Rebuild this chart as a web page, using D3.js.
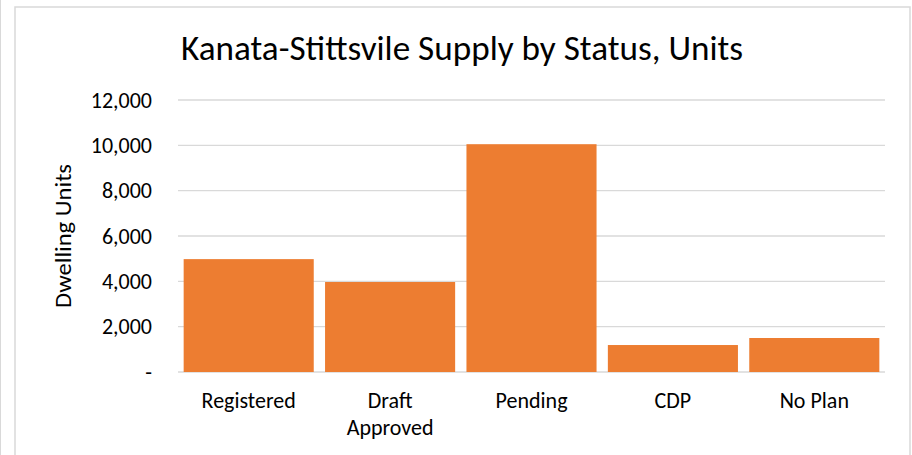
<!DOCTYPE html>
<html>
<head>
<meta charset="utf-8">
<script src="https://cdn.jsdelivr.net/npm/d3@7"></script>
<style>
  body { margin: 0; background: #fff; }
  svg { display: block; }
  text { font-family: Calibri, Carlito, Lato, "Open Sans", sans-serif; fill: #000; }
</style>
</head>
<body>
<div id="chart"></div>
<script>
// chart values
const categories = ["Registered", "Draft Approved", "Pending", "CDP", "No Plan"];
const units = [4980, 3970, 10050, 1190, 1500];
const yTicks = [0, 2000, 4000, 6000, 8000, 10000, 12000];

const W = 912, H = 455;
const margin = {top: 100, right: 27, bottom: 83, left: 178};
const width = W - margin.left - margin.right;
const height = H - margin.top - margin.bottom;

const svg = d3.select("#chart").append("svg")
    .attr("width", W)
    .attr("height", H);

// outer frames
svg.append("line").attr("x1", 0.5).attr("x2", 0.5).attr("y1", 0).attr("y2", H)
    .attr("stroke", "#d9d9d9");
svg.append("rect")
    .attr("x", 15).attr("y", 7).attr("width", 895).attr("height", H + 10)
    .attr("fill", "none").attr("stroke", "#d9d9d9").attr("stroke-width", 1.5);

const g = svg.append("g")
    .attr("transform", "translate(" + margin.left + "," + margin.top + ")");

const x = d3.scaleBand().domain(categories).range([0, width]).paddingInner(0.08).paddingOuter(0.04);
const y = d3.scaleLinear().domain([0, 12000]).range([height, 0]);

// gridlines
g.selectAll(".grid").data(yTicks).enter().append("line")
    .attr("class", "grid")
    .attr("x1", 0).attr("x2", width)
    .attr("y1", d => y(d)).attr("y2", d => y(d))
    .attr("stroke", "#d9d9d9").attr("stroke-width", 1.3);

// bars
g.selectAll(".bar").data(units).enter().append("rect")
    .attr("class", "bar")
    .attr("x", (d, i) => x(categories[i]))
    .attr("y", d => y(d))
    .attr("width", x.bandwidth())
    .attr("height", d => height - y(d))
    .attr("fill", "#ED7D31");

// y axis
const yAxis = d3.axisLeft(y).tickValues(yTicks).tickSize(0).tickPadding(26)
    .tickFormat(d => d === 0 ? "-" : d3.format(",")(d));
const ya = g.append("g").call(yAxis);
ya.select(".domain").remove();
ya.attr("font-family", null);
ya.selectAll("text").attr("font-size", 22);

// x axis
const xa = g.append("g").attr("transform", "translate(0," + height + ")")
    .call(d3.axisBottom(x).tickSize(0).tickPadding(20));
xa.select(".domain").remove();
xa.attr("font-family", null);
xa.selectAll("text").attr("font-size", 22).each(function(d) {
    const t = d3.select(this);
    if (d === "Draft Approved") {
        t.text(null);
        d.split(" ").forEach((w, i) => t.append("tspan").attr("x", 0).attr("dy", i === 0 ? "0.71em" : "1.25em").text(w));
        t.attr("dy", null);
    }
});

// y label
svg.append("text")
    .attr("transform", "translate(71," + (margin.top + height / 2) + ") rotate(-90)")
    .attr("text-anchor", "middle")
    .attr("font-size", 22)
    .attr("textLength", 144)
    .attr("lengthAdjust", "spacingAndGlyphs")
    .text("Dwelling Units");

// title
svg.append("text")
    .attr("x", 462).attr("y", 60)
    .attr("text-anchor", "middle")
    .attr("font-size", 35)
    .attr("font-weight", 300)
    .attr("textLength", 562)
    .attr("lengthAdjust", "spacingAndGlyphs")
    .text("Kanata-Stittsvile Supply by Status, Units");
</script>
</body>
</html>
